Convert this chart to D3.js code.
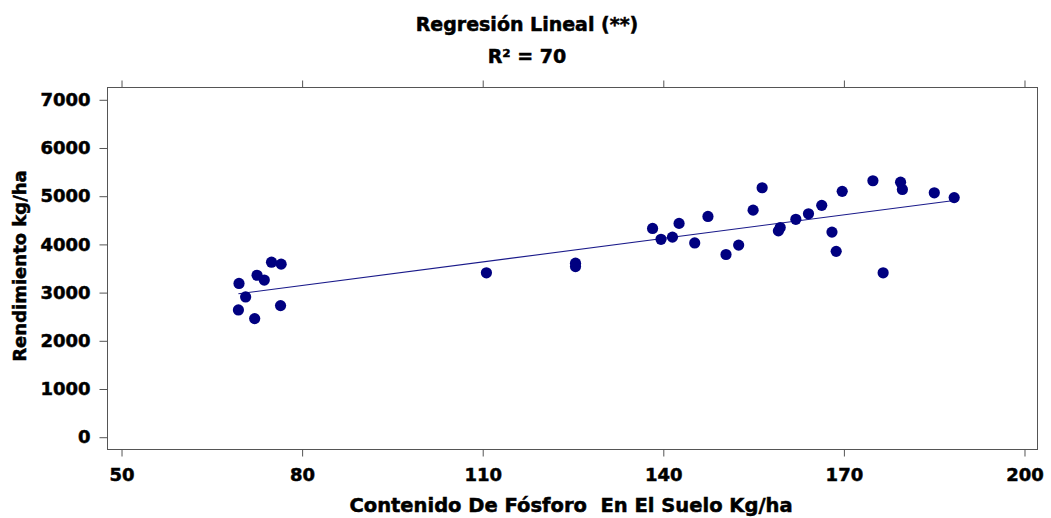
<!DOCTYPE html>
<html>
<head>
<meta charset="utf-8">
<script src="https://cdn.jsdelivr.net/npm/d3@7"></script>
<style>
  html, body { margin: 0; padding: 0; background: #fff; }
  text { font-family: "DejaVu Sans", Verdana, sans-serif; font-weight: bold; fill: #000; white-space: pre; }
</style>
</head>
<body>
<svg id="chart" width="1051" height="518"></svg>
<script>
// ---- data ----
const titleLines = ["Regresión Lineal (**)", "R² = 70"];
const xLabel = "Contenido De Fósforo  En El Suelo Kg/ha";
const yLabel = "Rendimiento kg/ha";
const xTicks = [50, 80, 110, 140, 170, 200];
const yTicks = [0, 1000, 2000, 3000, 4000, 5000, 6000, 7000];

// phosphorus content (kg/ha)
const phosphorus = [69.6, 70.7, 69.5, 72.2, 72.6, 73.8, 75.0, 76.6, 76.5,
  110.7, 125.5, 125.5,
  138.3, 139.7, 141.6, 142.7, 145.3, 147.5, 150.5, 152.6, 155.0, 156.5,
  159.2, 159.5, 162.1, 164.2, 166.4, 168.1, 168.8, 169.8, 174.9, 176.6,
  179.5, 179.8, 185.1, 188.4];
// yield (kg/ha)
const yieldKg = [3180, 2900, 2630, 2450, 3350, 3250, 3620, 3580, 2720,
  3400, 3600, 3530,
  4320, 4095, 4140, 4425, 4020, 4570, 3780, 3975, 4700, 5165,
  4270, 4340, 4510, 4625, 4800, 4245, 3845, 5090, 5310, 3400,
  5280, 5130, 5060, 4960];

// fitted regression line
const fitCoef = [1833, 16.28];      // intercept, slope
const fitRange = [69.5, 188.4];     // x extent of the line

// ---- drawing ----
const svg = d3.select("#chart");
const box = { left: 107, right: 1037, top: 87, bottom: 449 };

const x = d3.scaleLinear().domain([47.67, 202.16]).range([box.left, box.right]);
const y = d3.scaleLinear().domain([-255, 7255]).range([box.bottom, box.top]);

// frame
svg.append("rect")
  .attr("x", box.left + 0.5).attr("y", box.top + 0.5)
  .attr("width", box.right - box.left).attr("height", box.bottom - box.top)
  .attr("fill", "none").attr("stroke", "#555").attr("stroke-width", 1);

function styleAxis(g) {
  g.select(".domain").remove();
  g.selectAll(".tick line").attr("stroke", "#555");
  g.selectAll(".tick text")
    .attr("font-family", '"DejaVu Sans", Verdana, sans-serif')
    .attr("font-weight", "bold").attr("font-size", 18).attr("fill", "#000")
    .attr("stroke", "#000").attr("stroke-width", 0.5);
}

// bottom axis
svg.append("g")
  .attr("transform", `translate(0.5,${box.bottom + 0.5})`)
  .call(d3.axisBottom(x).tickValues(xTicks).tickFormat(d3.format("d")).tickSize(7).tickPadding(12))
  .call(styleAxis);

// top ticks
svg.append("g")
  .attr("transform", `translate(0.5,${box.top + 0.5})`)
  .call(d3.axisTop(x).tickValues(xTicks).tickSize(7).tickFormat(""))
  .call(styleAxis);

// left axis
svg.append("g")
  .attr("transform", `translate(${box.left + 0.5},0.5)`)
  .call(d3.axisLeft(y).tickValues(yTicks).tickFormat(d3.format("d")).tickSize(8).tickPadding(9))
  .call(styleAxis);

// regression line
svg.append("line")
  .attr("x1", x(fitRange[0])).attr("y1", y(fitCoef[0] + fitCoef[1] * fitRange[0]))
  .attr("x2", x(fitRange[1])).attr("y2", y(fitCoef[0] + fitCoef[1] * fitRange[1]))
  .attr("stroke", "#1a1a8a").attr("stroke-width", 1.1);

// points
svg.append("g").selectAll("circle")
  .data(phosphorus.map((p, i) => [p, yieldKg[i]]))
  .join("circle")
  .attr("cx", d => x(d[0])).attr("cy", d => y(d[1]))
  .attr("r", 5.6).attr("fill", "#000080");

// titles
const heavy = sel => sel.attr("stroke", "#000").attr("stroke-width", 0.5);
svg.append("text").attr("x", 527).attr("y", 31).attr("text-anchor", "middle")
  .attr("font-size", 19).call(heavy).text(titleLines[0]);
svg.append("text").attr("x", 527).attr("y", 63).attr("text-anchor", "middle")
  .attr("font-size", 19).call(heavy).text(titleLines[1]);

svg.append("text").attr("x", 571).attr("y", 512).attr("text-anchor", "middle")
  .attr("font-size", 19.5).call(heavy).text(xLabel);

svg.append("text")
  .attr("transform", "translate(26,266) rotate(-90)")
  .attr("text-anchor", "middle").attr("font-size", 18).call(heavy).text(yLabel);
</script>
</body>
</html>
